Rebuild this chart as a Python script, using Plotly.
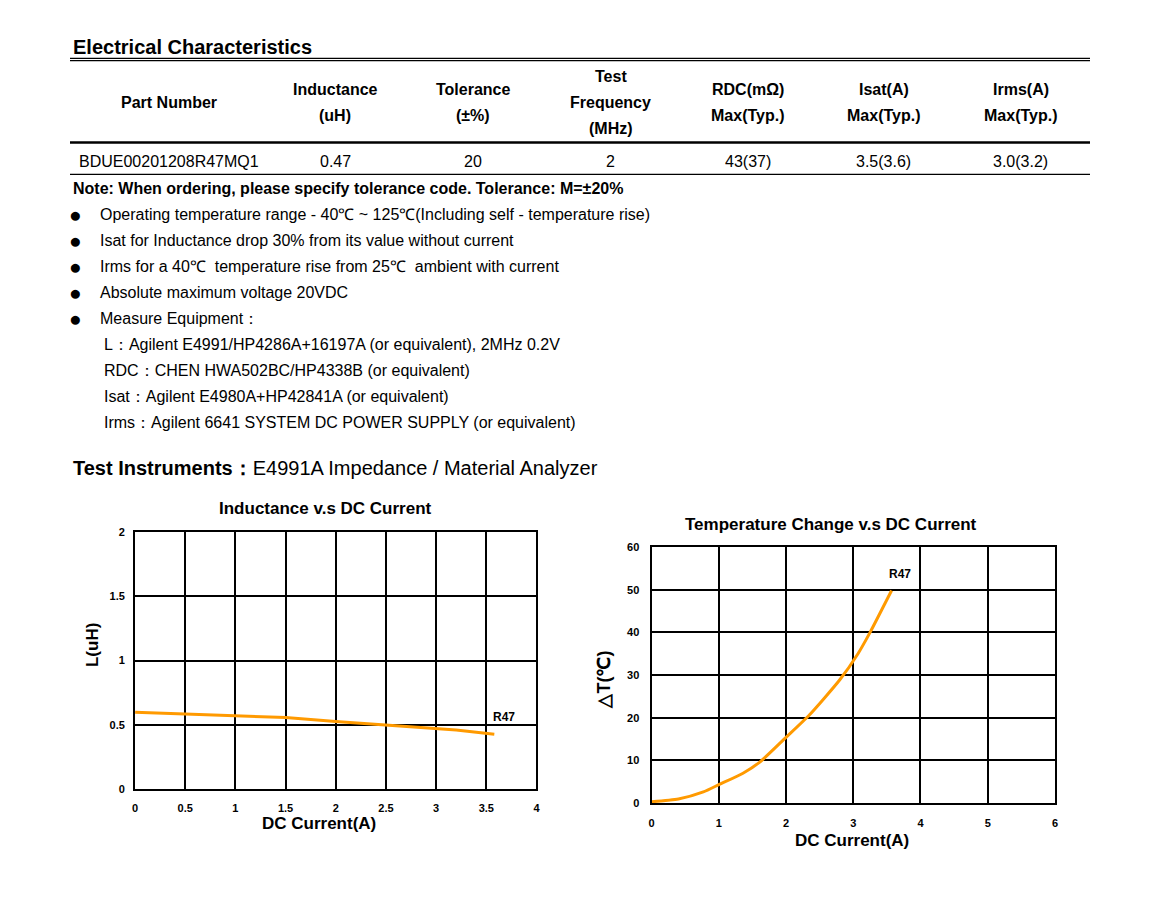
import plotly.graph_objects as go

# ---- data ----
table_headers = [["Part Number"], ["Inductance", "(uH)"], ["Tolerance", "(±%)"],
                 ["Test", "Frequency", "(MHz)"], ["RDC(mΩ)", "Max(Typ.)"],
                 ["Isat(A)", "Max(Typ.)"], ["Irms(A)", "Max(Typ.)"]]
table_row = ["BDUE00201208R47MQ1", "0.47", "20", "2", "43(37)", "3.5(3.6)", "3.0(3.2)"]
col_centers = [170, 336, 474, 611, 748, 884, 1021]

note_text = "Note: When ordering, please specify tolerance code. Tolerance: M=±20%"
bullets = ["Operating temperature range - 40℃ ~ 125℃(Including self - temperature rise)",
           "Isat for Inductance drop 30% from its value without current",
           "Irms for a 40℃  temperature rise from 25℃  ambient with current",
           "Absolute maximum voltage 20VDC",
           "Measure Equipment："]
equipment = ["L：Agilent E4991/HP4286A+16197A (or equivalent), 2MHz 0.2V",
             "RDC：CHEN HWA502BC/HP4338B (or equivalent)",
             "Isat：Agilent E4980A+HP42841A (or equivalent)",
             "Irms：Agilent 6641 SYSTEM DC POWER SUPPLY (or equivalent)"]

ind_current = [0, 0.5, 1.0, 1.5, 2.0, 2.5, 3.0, 3.2, 3.58]
ind_value = [0.598, 0.585, 0.572, 0.556, 0.525, 0.5, 0.473, 0.46, 0.427]

temp_current = [0, 0.4, 0.77, 1.0, 1.36, 1.61, 2.0, 2.35, 2.8, 3.07, 3.25, 3.57]
temp_rise = [0.3, 0.94, 2.6, 4.3, 7.0, 9.6, 15.4, 20.7, 28.9, 35.0, 40.0, 49.8]

W, H = 1161, 899
FONT = "Liberation Sans, Arial, sans-serif"
ORANGE = "#FF9A00"
SX, SY = 0.993, 0.9865   # compensation for page scaling


def px(x):
    return (W / 2 + (x - W / 2) / SX) / W


def py(y):
    return 1 - (H / 2 + (y - H / 2) / SY) / H


fig = go.Figure()
fig.add_trace(go.Scatter(x=ind_current, y=ind_value, mode="lines",
                         line=dict(color=ORANGE, width=3), xaxis="x", yaxis="y",
                         showlegend=False, hoverinfo="skip"))
fig.add_trace(go.Scatter(x=temp_current, y=temp_rise, mode="lines",
                         line=dict(color=ORANGE, width=3, shape="spline", smoothing=0.6),
                         xaxis="x2", yaxis="y2", showlegend=False, hoverinfo="skip"))

ann = []
shapes = []


def text(x, y, s, size=14, bold=False, xanchor="left", color="black", **kw):
    ann.append(dict(x=px(x), y=py(y), xref="paper", yref="paper", text=s,
                    showarrow=False, xanchor=xanchor, yanchor="middle",
                    font=dict(family=FONT, size=size, color=color,
                              weight="bold" if bold else "normal"), **kw))


def hline(y, w):
    shapes.append(dict(type="line", xref="paper", yref="paper", x0=px(71), x1=px(1090),
                       y0=py(y), y1=py(y), line=dict(color="black", width=w)))


# heading
text(72, 47, "Electrical Characteristics", size=20, bold=True)
hline(58.4, 1.2)
hline(60.6, 1.2)
# table header
for cx, lines in zip(col_centers, table_headers):
    n = len(lines)
    start = 103 - (n - 1) * 13
    for i, ln in enumerate(lines):
        text(cx, start + i * 26, ln, size=16, bold=True, xanchor="center")
hline(142.5, 2.5)
for cx, val in zip(col_centers, table_row):
    text(cx, 162, val, size=16, xanchor="center")
hline(174.5, 1.2)

text(72, 189, note_text, size=16, bold=True)
for i, b in enumerate(bullets):
    y = 215 + i * 26
    text(68, y, "●", size=21)
    text(99, y, b, size=16)
for i, e in enumerate(equipment):
    text(103, 345 + i * 26, e, size=16)

text(72, 468, "<b>Test Instruments：</b>E4991A Impedance / Material Analyzer", size=20)

# chart titles / axis titles
text(326, 508, "Inductance v.s DC Current", size=17, bold=True, xanchor="center")
text(320, 823, "DC Current(A)", size=17, bold=True, xanchor="center")
text(93, 645, "L(uH)", size=17, bold=True, xanchor="center", textangle=-90)

text(831, 524, "Temperature Change v.s DC Current", size=17, bold=True, xanchor="center")
text(852, 840, "DC Current(A)", size=17, bold=True, xanchor="center")
text(605, 680, "△T(℃)", size=18, bold=True, xanchor="center", textangle=-90)

ann.append(dict(x=3.68, y=0.56, xref="x", yref="y", text="R47", showarrow=False,
                xanchor="center", yanchor="middle",
                font=dict(family=FONT, size=12, weight="bold", color="black")))
ann.append(dict(x=3.69, y=53.7, xref="x2", yref="y2", text="R47", showarrow=False,
                xanchor="center", yanchor="middle",
                font=dict(family=FONT, size=12, weight="bold", color="black")))

axis_common = dict(showgrid=True, gridcolor="black", gridwidth=1.5, showline=True,
                   linecolor="black", linewidth=2, mirror=True, zeroline=False,
                   ticks="", tickfont=dict(family=FONT, size=11, color="black", weight="bold"),
                   fixedrange=True)

fig.update_layout(
    autosize=True, margin=dict(l=0, r=0, t=0, b=0),
    paper_bgcolor="white", plot_bgcolor="white",
    xaxis=dict(domain=[px(136), px(537)], range=[0, 4], dtick=0.5, anchor="y",
               ticklabelstandoff=8, **axis_common),
    yaxis=dict(domain=[py(789), py(532)], range=[0, 2], dtick=0.5, anchor="x",
               ticklabelstandoff=6, **axis_common),
    xaxis2=dict(domain=[px(652), px(1055)], range=[0, 6], dtick=1, anchor="y2",
                ticklabelstandoff=9, **axis_common),
    yaxis2=dict(domain=[py(803), py(547)], range=[0, 60], dtick=10, anchor="x2",
                ticklabelstandoff=8, **axis_common),
    annotations=ann, shapes=shapes,
)

fig.write_html("out.html",
               config={"displayModeBar": False, "responsive": True},
               default_width="100vw", default_height="100vh",
               post_script=("document.body.style.margin='0';"
                            "document.body.style.overflow='hidden';"
                            "document.documentElement.style.overflow='hidden';"
                            "Plotly.Plots.resize(document.getElementById('{plot_id}'));"))
